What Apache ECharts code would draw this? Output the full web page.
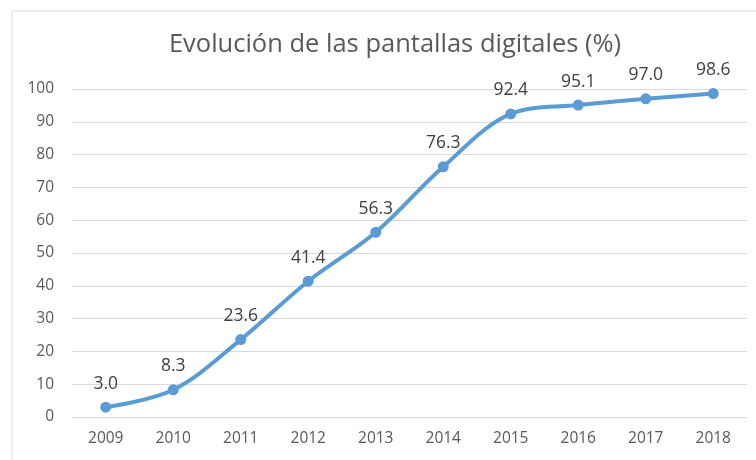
<!DOCTYPE html>
<html lang="es">
<head>
    <meta charset="UTF-8">
    <title>Evolución de las pantallas digitales</title>
    <script src="https://cdn.jsdelivr.net/npm/echarts@6/dist/echarts.min.js"></script>
    <style>
        html, body { margin: 0; padding: 0; background: #fff; }
    </style>
</head>
<body>
<div id="main" style="width:756px;height:460px;"></div>

<script type="text/javascript">
    var years = ['2009', '2010', '2011', '2012', '2013', '2014', '2015', '2016', '2017', '2018'];
    var values = [3.0, 8.3, 23.6, 41.4, 56.3, 76.3, 92.4, 95.1, 97.0, 98.6];

    var myChart = echarts.init(document.getElementById('main'));

    var option = {
        backgroundColor: '#fff',
        textStyle: {
            fontFamily: '"Open Sans", "Liberation Sans", sans-serif'
        },
        graphic: [{
            type: 'rect',
            shape: {x: 12, y: 11, width: 760, height: 470},
            style: {fill: 'none', stroke: '#d9d9d9', lineWidth: 1},
            silent: true
        }],
        title: {
            text: 'Evolución de las pantallas digitales (%)',
            left: 390,
            top: 27,
            textAlign: 'center',
            textStyle: {
                color: '#595959',
                fontSize: 25.5,
                fontWeight: 'normal'
            }
        },
        grid: {
            left: 72,
            right: 9,
            top: 89,
            bottom: 43
        },
        xAxis: {
            type: 'category',
            data: years,
            boundaryGap: true,
            axisLine: {show: false},
            axisTick: {show: false},
            axisLabel: {
                color: '#595959',
                fontSize: 15.5,
                margin: 14
            }
        },
        yAxis: {
            type: 'value',
            min: 0,
            max: 100,
            interval: 10,
            axisLine: {show: false},
            axisTick: {show: false},
            axisLabel: {
                color: '#595959',
                fontSize: 15.5,
                margin: 18
            },
            splitLine: {
                lineStyle: {color: '#d9d9d9', width: 1}
            }
        },
        series: [{
            type: 'line',
            data: values,
            smooth: 0.35,
            symbol: 'circle',
            symbolSize: 11,
            lineStyle: {color: '#5b9bd5', width: 4},
            itemStyle: {color: '#5b9bd5'},
            label: {
                show: true,
                position: 'top',
                distance: 9,
                color: '#404040',
                fontSize: 17.5,
                formatter: function (p) {
                    return p.value.toFixed(1);
                }
            }
        }]
    };

    myChart.setOption(option);
</script>
</body>
</html>
